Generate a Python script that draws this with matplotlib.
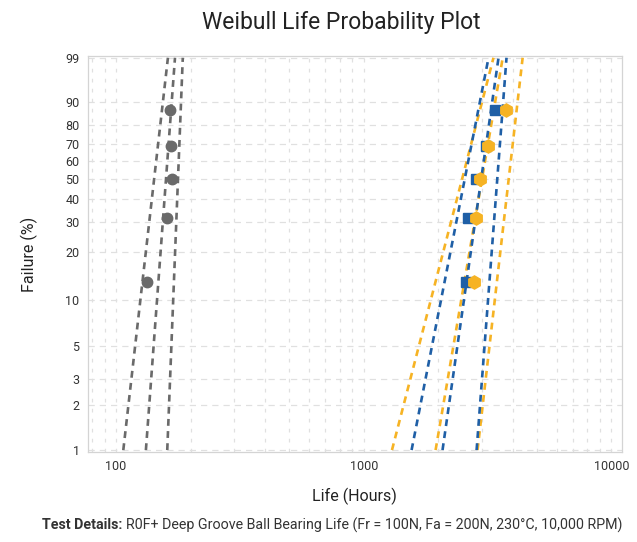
import matplotlib
matplotlib.use("Agg")
import matplotlib.pyplot as plt
import numpy as np
from matplotlib.ticker import FixedLocator, NullFormatter

plt.rcParams["font.family"] = ["Roboto", "DejaVu Sans"]

# --- data (life in hours, failure in %) ---
ranks = [12.96, 31.48, 50.0, 68.52, 87.04]          # median ranks, n = 5
gray_life = [133, 160, 168, 167, 165]
blue_life = [2576, 2626, 2848, 3125, 3373]
orange_life = [2777, 2848, 2936, 3162, 3762]

# fitted line and bounds: life at 1 % and at 99 % failure
line_ends = [1, 99]
gray_lines = [[107, 162], [132, 173], [161, 186]]
orange_lines = [[1300, 3340], [1950, 3640], [2880, 4380]]
blue_lines = [[1560, 3190], [2080, 3500], [2855, 3770]]

y_ticks = [1, 2, 3, 5, 10, 20, 30, 40, 50, 60, 70, 80, 90, 99]
x_major = [100, 1000, 10000]
x_minor = [80, 90, 200, 300, 400, 500, 600, 700, 800, 900,
           2000, 3000, 4000, 5000, 6000, 7000, 8000, 9000]

GRAY = "#6a6a6a"
BLUE = "#1f5fa6"
ORANGE = "#f6b324"


def weibull_fwd(p):
    p = np.clip(np.asarray(p, dtype=float), 1e-6, 100 - 1e-6)
    return np.log(-np.log(1.0 - p / 100.0))


def weibull_inv(t):
    return 100.0 * (1.0 - np.exp(-np.exp(t)))


fig = plt.figure(figsize=(6.37, 5.42), dpi=100)
ax = fig.add_axes([0.138, 0.166, 0.838, 0.731])
ax.set_xscale("log")
ax.set_yscale("function", functions=(weibull_fwd, weibull_inv))

dash = dict(linestyle=(0, (2.6, 2.0)), linewidth=1.9)
for xs in gray_lines:
    ax.plot(xs, line_ends, color=GRAY, **dash)
for xs in orange_lines:
    ax.plot(xs, line_ends, color=ORANGE, **dash)
for xs in blue_lines:
    ax.plot(xs, line_ends, color=BLUE, **dash)

ax.plot(gray_life, ranks, "o", color=GRAY, markersize=7.5)
ax.plot(blue_life, ranks, "s", color=BLUE, markersize=7.5)
ax.plot(orange_life, ranks, "h", color=ORANGE, markersize=9.5)

ax.set_xlim(77, 11000)
ax.set_ylim(0.97, 99.13)

ax.xaxis.set_major_locator(FixedLocator(x_major))
ax.set_xticklabels([str(v) for v in x_major])
ax.xaxis.set_minor_locator(FixedLocator(x_minor))
ax.xaxis.set_minor_formatter(NullFormatter())
ax.yaxis.set_major_locator(FixedLocator(y_ticks))
ax.set_yticklabels([str(v) for v in y_ticks])
ax.yaxis.set_minor_locator(FixedLocator([]))
ax.tick_params(which="both", length=0, labelsize=9, colors="#333333", pad=6)

ax.grid(True, which="both", axis="x", color="#e0e0e0", linestyle=(0, (3, 5)), linewidth=0.9)
ax.grid(True, which="major", axis="y", color="#e0e0e0", linestyle=(0, (5, 4)), linewidth=0.9)
ax.set_axisbelow(True)
for s in ax.spines.values():
    s.set_color("#d4d4d4")
    s.set_linewidth(0.9)

ax.set_xlabel("Life (Hours)", fontsize=11.5, color="#222222", labelpad=10)
ax.set_ylabel("Failure (%)", fontsize=11.5, color="#222222", labelpad=20)
fig.text(0.535, 0.958, "Weibull Life Probability Plot", fontsize=16.5, color="#222222",
         ha="center", va="center")

# footer: bold label followed by regular text
fy = 1 - 525 / 542
t1 = fig.text(42 / 637, fy, "Test Details:", fontsize=10.3, fontweight="bold",
              color="#333333", va="center")
fig.canvas.draw()
bb = t1.get_window_extent()
fig.text((bb.x1 + 4) / 637, fy,
         "R0F+ Deep Groove Ball Bearing Life (Fr = 100N, Fa = 200N, 230°C, 10,000 RPM)",
         fontsize=10.3, color="#333333", va="center")

fig.savefig("out.png", dpi=100)
